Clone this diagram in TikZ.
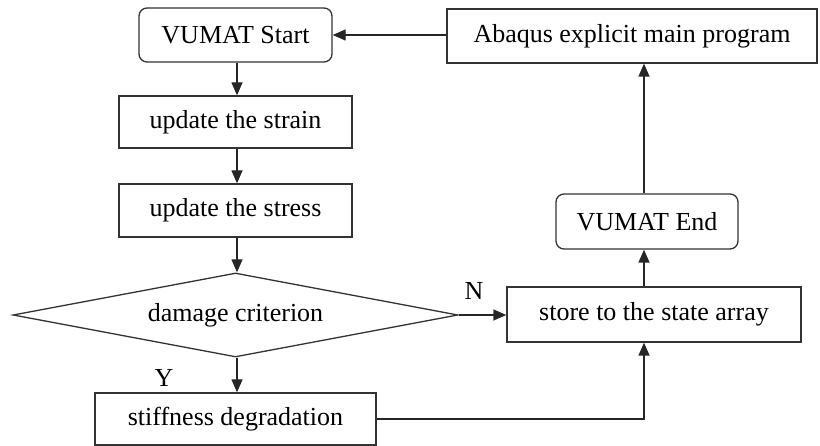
\documentclass[tikz,border=0pt]{standalone}
\usepackage{fontspec}
\setmainfont{Liberation Serif}
\usetikzlibrary{shapes.geometric,arrows.meta}
\begin{document}
\begin{tikzpicture}[x=1pt,y=-1pt,
  font=\fontsize{26}{30}\selectfont,
  box/.style={draw=black!80,line width=1.3pt,rectangle,inner sep=0pt,fill=white},
  rbox/.style={box,rounded corners=8pt},
  dec/.style={draw=black!80,line width=1.3pt,diamond,inner sep=0pt,shape aspect=5.3,minimum width=445pt,minimum height=84pt},
  conn/.style={draw=black!85,line width=1.3pt},
  arr/.style={conn,-{Triangle[length=13pt,width=11pt]}},
  lbl/.style={inner sep=0pt}]
\useasboundingbox (0,0) rectangle (820,446);
\node[rbox,minimum width=193pt,minimum height=54pt] (start) at (235.5,35) {VUMAT Start};
\node[box,minimum width=370pt,minimum height=54pt] (abq) at (632,36) {Abaqus explicit main program};
\node[box,minimum width=233pt,minimum height=52pt] (strain) at (235.5,122) {update the strain};
\node[box,minimum width=233pt,minimum height=53pt] (stress) at (235.5,210.5) {update the stress};
\node[dec] (dam) at (235.5,315) {damage criterion};
\node[box,minimum width=281pt,minimum height=52pt] (stiff) at (235.5,419) {stiffness degradation};
\node[box,minimum width=294pt,minimum height=55pt] (store) at (654,314.5) {store to the state array};
\node[rbox,minimum width=182pt,minimum height=55pt] (vend) at (647,221.5) {VUMAT End};
\coordinate (xcol) at (644,0);
\coordinate (xl) at (237,0);
\node[lbl] (nlab) at (474,291) {N};
\node[lbl] (ylab) at (164,378) {Y};
\draw[arr] (start.east -| abq.west) -- (start.east);
\draw[arr] (start.south -| xl) -- (strain.north -| xl);
\draw[arr] (strain.south -| xl) -- (stress.north -| xl);
\draw[arr] (stress.south -| xl) -- (dam.north -| xl);
\draw[arr] (dam.south -| xl) -- (stiff.north -| xl);
\draw[arr] (dam.east) -- (dam.east -| store.west);
\draw[arr] (stiff.east) -| (store.south -| xcol);
\draw[arr] (store.north -| xcol) -- (vend.south -| xcol);
\draw[arr] (vend.north -| xcol) -- (abq.south -| xcol);
\end{tikzpicture}
\end{document}
